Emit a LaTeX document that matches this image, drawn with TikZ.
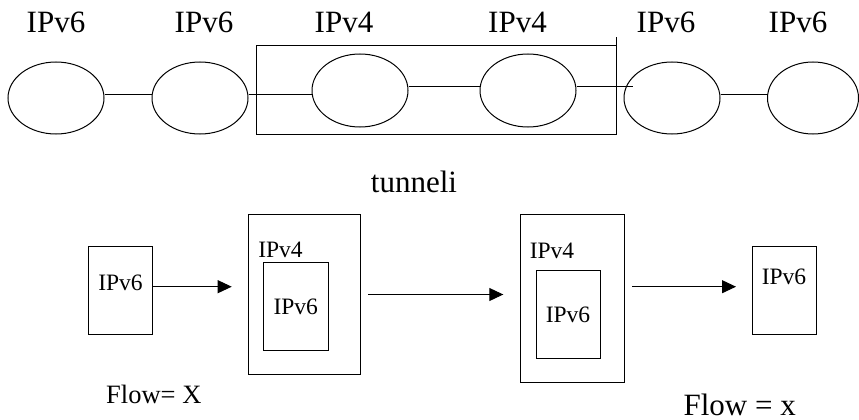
\documentclass[tikz,border=0pt]{standalone}
\usepackage{fontspec}
\setmainfont{Liberation Serif}
\usetikzlibrary{shapes.geometric,arrows.meta}
\tikzset{
  net/.style={draw,ellipse,inner sep=0pt,minimum width=96pt,minimum height=72pt},
  box/.style={draw,rectangle,inner sep=0pt},
  big/.style={inner sep=0pt,anchor=base,font=\fontsize{31}{31}\selectfont},
  small/.style={inner sep=0pt,anchor=base,font=\fontsize{23.5}{23.5}\selectfont},
  arr/.style={-{Triangle[length=14pt,width=13pt]}}
}
\begin{document}
\begin{tikzpicture}[x=1pt,y=-1pt,line width=1pt]
\useasboundingbox (0,0) rectangle (859,420);
% top labels
\node[big] (l1) at (56,33) {IPv6};
\node[big] (l2) at (204,33) {IPv6};
\node[big] (l3) at (344,33) {IPv4};
\node[big] (l4) at (517.5,33) {IPv4};
\node[big] (l5) at (666,33) {IPv6};
\node[big] (l6) at (798,33) {IPv6};
% tunnel frame
\node[box,minimum width=360pt,minimum height=88pt] (tunnel) at (436,90) {};
\draw (tunnel.north east) -- ++(0,-8);
% networks
\node[net] (e1) at (56,98) {};
\node[net] (e2) at (200,98) {};
\node[net,minimum height=73pt] (e3) at (360,90.5) {};
\node[net,minimum height=73pt] (e4) at (528,90.5) {};
\node[net] (e5) at (672,98) {};
\node[net,minimum width=91pt] (e6) at (813,98) {};
\coordinate (tend) at (632.7,86);
\draw ([yshift=4pt]e1.east) -- ([yshift=4pt]e2.west);
\draw ([yshift=4pt]e2.east) -- ([yshift=-3.5pt]e3.west);
\draw ([yshift=4.5pt]e3.east) -- ([yshift=4.5pt]e4.west);
\draw ([yshift=4.5pt]e4.east) -- (tend);
\draw ([yshift=4pt]e5.east) -- ([yshift=4pt]e6.west);
\node[big] (tun) at (414,192.3) {tunneli};
% bottom packets
\node[box,minimum width=64pt,minimum height=88pt] (b1) at (120.3,290.2) {};
\node[small] (b1t) at (120.5,290) {IPv6};
\node[box,minimum width=112pt,minimum height=160pt] (b2) at (304.4,294.3) {};
\node[small] (b2t) at (280.5,257.7) {IPv4};
\node[box,minimum width=64.7pt,minimum height=87.7pt] (b2i) at (296.3,306.2) {};
\node[small] (b2it) at (295.8,314.3) {IPv6};
\node[box,minimum width=104pt,minimum height=168pt] (b3) at (572.6,298.3) {};
\node[small] (b3t) at (552,258.3) {IPv4};
\node[box,minimum width=64pt,minimum height=88pt] (b3i) at (568.3,314.3) {};
\node[small] (b3it) at (568,322.7) {IPv6};
\node[box,minimum width=64pt,minimum height=88pt] (b4) at (784.3,290.2) {};
\node[small] (b4t) at (784,284.3) {IPv6};
% arrows
\coordinate (a1e) at (231.7,286.7);
\draw[arr] (b1.east |- a1e) -- (a1e);
\coordinate (a2s) at (368.3,294.5);
\coordinate (a2e) at (503.3,294.5);
\draw[arr] (a2s) -- (a2e);
\coordinate (a3s) at (632.3,286.7);
\coordinate (a3e) at (736,286.7);
\draw[arr] (a3s) -- (a3e);
% flow labels
\node[inner sep=0pt,anchor=base,font=\fontsize{26.5}{26.5}\selectfont] (f1) at (153.8,403.3) {Flow= X};
\node[big] (f2) at (739.7,415) {Flow = x};
\end{tikzpicture}
\end{document}
